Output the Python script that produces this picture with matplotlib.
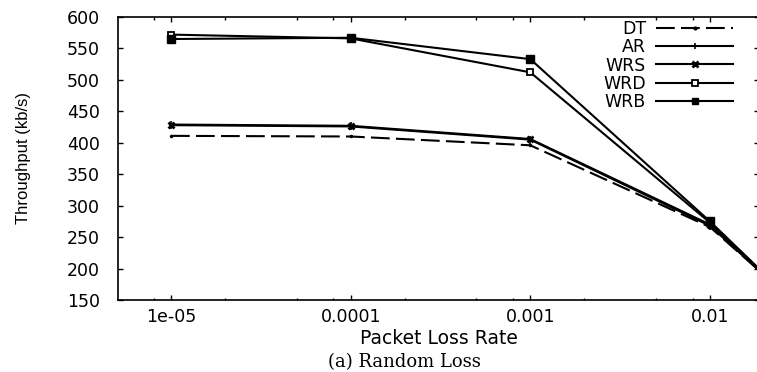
import matplotlib
matplotlib.use("Agg")
import matplotlib.pyplot as plt
from matplotlib.ticker import LogLocator, NullFormatter
import numpy as np

# data
loss_rate = [1e-5, 1e-4, 1e-3, 1e-2, 2e-2]
dt = [411, 410, 396, 266, 190]
ar = [428, 426, 405, 268, 190]
wrs = [429, 427, 406, 270, 190]
wrd = [572, 566, 512, 273, 192]
wrb = [565, 567, 533, 275, 192]

x_ticks = [1e-5, 1e-4, 1e-3, 1e-2]
x_tick_labels = ["1e-05", "0.0001", "0.001", "0.01"]
y_ticks = list(range(150, 601, 50))

fig = plt.figure(figsize=(7.57, 3.72), dpi=100)
# axes box in pixels: left 118, right ~759, top 17, bottom 300
ax = fig.add_axes([118 / 757, 72 / 372, 641 / 757, 283 / 372])

lw = 1.5
ax.plot(loss_rate, dt, color="black", lw=lw, ls=(0, (9, 3)), marker=".", ms=3, label="DT")
ax.plot(loss_rate, ar, color="black", lw=lw, marker="|", ms=6, mew=1.2, label="AR")
ax.plot(loss_rate, wrs, color="black", lw=lw, marker="x", ms=4, mew=2, label="WRS")
ax.plot(loss_rate, wrd, color="black", lw=lw, marker="s", ms=5, mfc="white", mew=1.3, label="WRD")
ax.plot(loss_rate, wrb, color="black", lw=lw, marker="s", ms=5.5, label="WRB")

ax.set_xscale("log")
ax.set_xlim(10 ** -5.295, 10 ** -1.727)
ax.set_ylim(150, 600)
ax.set_xticks(x_ticks)
ax.set_xticklabels(x_tick_labels)
ax.xaxis.set_minor_locator(LogLocator(base=10, subs=[2, 5, 8]))
ax.xaxis.set_minor_formatter(NullFormatter())
ax.set_yticks(y_ticks)

for s in ax.spines.values():
    s.set_linewidth(1.2)
ax.tick_params(which="both", direction="in", top=True, right=True, width=1.0, labelsize=12.5)
ax.tick_params(which="major", length=3.5)
ax.tick_params(which="minor", length=1.8)
ax.tick_params(axis="y", pad=13)
ax.tick_params(axis="x", pad=6)

ax.set_xlabel("Packet Loss Rate", fontsize=13.5, labelpad=2)
ax.set_ylabel("Throughput (kb/s)", family="Liberation Sans", fontsize=12, va="center")
ax.yaxis.set_label_coords(-0.148, 0.5)

fig.text(0.534, 0.027, "(a) Random Loss", family="DejaVu Serif", fontsize=13,
         ha="center", va="center")

# gnuplot style key: labels right-aligned, samples on the right
leg = ax.legend(loc="upper right", bbox_to_anchor=(0.959, 0.99), frameon=False,
                markerfirst=False, fontsize=12.5, handlelength=4.4, handletextpad=0.6,
                labelspacing=0.02, borderaxespad=0, borderpad=0)
for h in leg.legend_handles:
    h.set_markersize(4)

fig.savefig("out.png", dpi=100)
